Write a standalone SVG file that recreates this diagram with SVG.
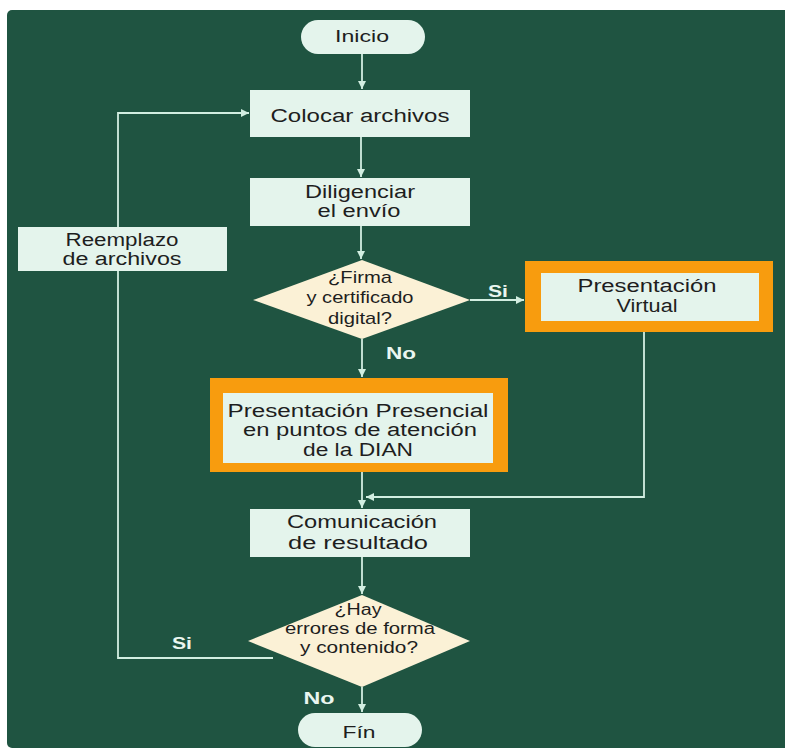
<svg xmlns="http://www.w3.org/2000/svg" width="785" height="753" viewBox="0 0 785 753">
<defs>
<style>
.bg{fill:#1f5441}
.box{fill:#e4f4ec}
.dia{fill:#fbf1d6}
.org{fill:#f89c0e}
.t{font-family:"Liberation Sans",Arial,sans-serif;fill:#1e1e1e;text-anchor:middle}
.m{font-size:18px}
.d{font-size:17px}
.d2{font-size:16px}
.s{font-size:17px}
.lbl{font-family:"Liberation Sans",Arial,sans-serif;font-weight:bold;font-size:16px;fill:#eaf6f0}
.ln{fill:none;stroke:#d2eee1;stroke-width:1.8}
</style>
<marker id="ah" viewBox="0 0 10 10" refX="10" refY="5" markerWidth="8" markerHeight="8" markerUnits="userSpaceOnUse" orient="auto">
<path d="M0,0 L10,5 L0,10 z" fill="#d2eee1"/>
</marker>
</defs>
<rect x="0" y="0" width="785" height="753" fill="#ffffff"/>
<rect class="bg" x="7" y="10" width="790" height="738" rx="5"/>

<g id="connectors">
<line class="ln" x1="362" y1="53" x2="362" y2="89" marker-end="url(#ah)"/>
<line class="ln" x1="361" y1="137" x2="361" y2="177" marker-end="url(#ah)"/>
<line class="ln" x1="361" y1="226" x2="361" y2="259" marker-end="url(#ah)"/>
<line class="ln" x1="362" y1="339" x2="362" y2="377" marker-end="url(#ah)"/>
<line class="ln" x1="470" y1="300" x2="524" y2="300" marker-end="url(#ah)"/>
<polyline class="ln" points="644,332 644,497 366,497" marker-end="url(#ah)"/>
<line class="ln" x1="362" y1="472" x2="362" y2="508" marker-end="url(#ah)"/>
<line class="ln" x1="362" y1="557" x2="362" y2="594" marker-end="url(#ah)"/>
<line class="ln" x1="362" y1="687" x2="362" y2="712" marker-end="url(#ah)"/>
<polyline class="ln" points="273,658 118,658 118,113 249,113" marker-end="url(#ah)"/>
</g>

<g id="inicio">
<rect class="box" x="301" y="20" width="124" height="34" rx="17"/>
<text class="t s" x="362" y="42" textLength="54" lengthAdjust="spacingAndGlyphs">Inicio</text>
</g>

<g id="colocar">
<rect class="box" x="250" y="90" width="220" height="47"/>
<text class="t m" x="360" y="122" textLength="179" lengthAdjust="spacingAndGlyphs">Colocar archivos</text>
</g>

<g id="diligenciar">
<rect class="box" x="250" y="178" width="220" height="48"/>
<text class="t m" x="360" y="198" textLength="110" lengthAdjust="spacingAndGlyphs">Diligenciar</text>
<text class="t m" x="359" y="217" textLength="83" lengthAdjust="spacingAndGlyphs">el envío</text>
</g>

<g id="reemplazo">
<rect class="box" x="18" y="227" width="209" height="44"/>
<text class="t m" x="122" y="246" textLength="113" lengthAdjust="spacingAndGlyphs">Reemplazo</text>
<text class="t m" x="122" y="265" textLength="119" lengthAdjust="spacingAndGlyphs">de archivos</text>
</g>

<g id="firma">
<polygon class="dia" points="362,260 470,300 362,339 253,300"/>
<text class="t d" x="360" y="283" textLength="64" lengthAdjust="spacingAndGlyphs">¿Firma</text>
<text class="t d" x="360" y="303" textLength="107" lengthAdjust="spacingAndGlyphs">y certificado</text>
<text class="t d" x="360" y="324" textLength="64" lengthAdjust="spacingAndGlyphs">digital?</text>
</g>
<text class="lbl" x="498" y="297" text-anchor="middle" textLength="20" lengthAdjust="spacingAndGlyphs">Si</text>
<text class="lbl" x="401" y="359" text-anchor="middle" textLength="30" lengthAdjust="spacingAndGlyphs">No</text>

<g id="virtual">
<rect class="org" x="525" y="261" width="248" height="71"/>
<rect class="box" x="541" y="273" width="218" height="48"/>
<text class="t m" x="647" y="292" textLength="139" lengthAdjust="spacingAndGlyphs">Presentación</text>
<text class="t m" x="647" y="312" textLength="61" lengthAdjust="spacingAndGlyphs">Virtual</text>
</g>

<g id="presencial">
<rect class="org" x="210" y="378" width="298" height="94"/>
<rect class="box" x="223" y="393" width="270" height="70"/>
<text class="t m" x="358" y="417" textLength="261" lengthAdjust="spacingAndGlyphs">Presentación Presencial</text>
<text class="t m" x="360" y="436" textLength="234" lengthAdjust="spacingAndGlyphs">en puntos de atención</text>
<text class="t m" x="358" y="456" textLength="110" lengthAdjust="spacingAndGlyphs">de la DIAN</text>
</g>

<g id="comunicacion">
<rect class="box" x="250" y="509" width="220" height="48"/>
<text class="t m" x="362" y="528" textLength="150" lengthAdjust="spacingAndGlyphs">Comunicación</text>
<text class="t m" x="358" y="549" textLength="140" lengthAdjust="spacingAndGlyphs">de resultado</text>
</g>

<g id="errores">
<polygon class="dia" points="362,595 470,641 362,687 248,641"/>
<text class="t d2" x="358" y="615" textLength="47" lengthAdjust="spacingAndGlyphs">¿Hay</text>
<text class="t d2" x="360" y="634" textLength="150" lengthAdjust="spacingAndGlyphs">errores de forma</text>
<text class="t d2" x="359" y="653" textLength="118" lengthAdjust="spacingAndGlyphs">y contenido?</text>
</g>
<text class="lbl" x="182" y="649" text-anchor="middle" textLength="20" lengthAdjust="spacingAndGlyphs">Si</text>
<text class="lbl" x="319" y="704" text-anchor="middle" textLength="31" lengthAdjust="spacingAndGlyphs">No</text>

<g id="fin">
<rect class="box" x="298" y="713" width="124" height="34" rx="17"/>
<text class="t s" x="359" y="738" textLength="33" lengthAdjust="spacingAndGlyphs">Fín</text>
</g>
</svg>
